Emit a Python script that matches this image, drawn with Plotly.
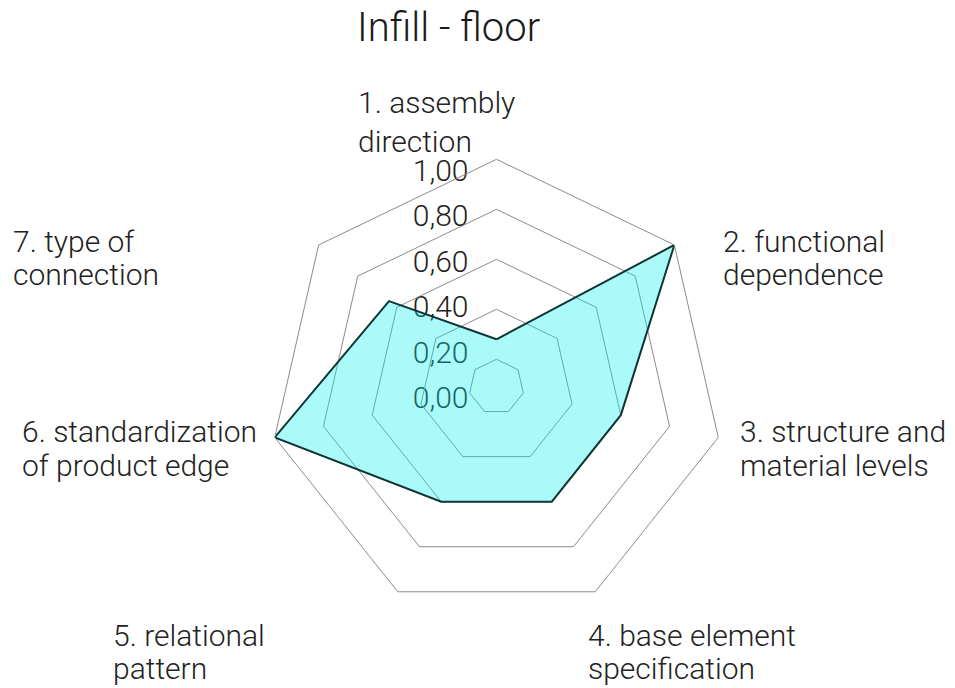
import plotly.graph_objects as go

# ---------------- data ----------------
title_text = "Infill - floor"
categories = [
    "1. assembly direction",
    "2. functional dependence",
    "3. structure and material levels",
    "4. base element specification",
    "5. relational pattern",
    "6. standardization of product edge",
    "7. type of connection",
]
label_lines = [
    ["1. assembly", "direction"],
    ["2. functional", "dependence"],
    ["3. structure and", "material levels"],
    ["4. base element", "specification"],
    ["5. relational", "pattern"],
    ["6. standardization", "of product edge"],
    ["7. type of", "connection"],
]
values = [0.28, 1.00, 0.60, 0.60, 0.60, 1.00, 0.64]
grid_vals = [0.2, 0.4, 0.6, 0.8, 1.0]
scale_vals = [0.0, 0.2, 0.4, 0.6, 0.8, 1.0]
scale_text = ["0,00", "0,20", "0,40", "0,60", "0,80", "1,00"]

# ---------------- layout helpers ----------------
W, H = 955, 688
FONT = "Roboto"
LABEL_SIZE = 30


def domain(cx, cy, r):
    return dict(x=[(cx - r) / W, (cx + r) / W],
                y=[(H - cy - r) / H, (H - cy + r) / H])


# label positions: left x, baselines of line 1 and line 2 (pixels)
label_pos = [(357, 113, 151), (722, 251, 285), (739, 441, 475), (587, 645, 678),
             (112, 645, 678), (21, 441, 475), (12, 251, 285)]

fig = go.Figure()

# invisible trace to host the scale-label subplot
fig.add_trace(go.Scatterpolar(r=[0], theta=[0], subplot="polar",
                              mode="markers", marker=dict(opacity=0),
                              hoverinfo="skip", showlegend=False))

fig.add_trace(go.Scatterpolar(
    r=values + [values[0]],
    theta=categories + [categories[0]],
    subplot="polar2",
    mode="lines",
    fill="toself",
    fillcolor="rgba(0,240,240,0.333)",
    line=dict(color="#0f3535", width=2),
    showlegend=False,
))

fig.update_layout(
    width=W, height=H,
    margin=dict(l=0, r=0, t=0, b=0),
    paper_bgcolor="white",
    plot_bgcolor="white",
    font=dict(family=FONT, color="#222222", weight=300),
    title=dict(text=title_text, x=357 / W, xanchor="left",
               y=1 - 27 / H, yanchor="middle", yref="container",
               font=dict(size=40, family=FONT, color="#1a1a1a", weight=300)),
    polar=dict(
        domain=domain(490, 393, 227.5),
        bgcolor="rgba(0,0,0,0)",
        angularaxis=dict(rotation=90, direction="clockwise",
                         showline=False, showgrid=False,
                         showticklabels=False, ticks=""),
        radialaxis=dict(range=[0, 1.001], angle=90, side="counterclockwise",
                        tickvals=scale_vals, ticktext=scale_text,
                        showline=False, showgrid=False, ticks="",
                        tickfont=dict(size=30, family=FONT, color="#222222", weight=300),
                        layer="below traces"),
    ),
    polar2=dict(
        domain=domain(496.5, 386.8, 227.5),
        bgcolor="rgba(0,0,0,0)",
        gridshape="linear",
        angularaxis=dict(type="category", categoryarray=categories,
                         rotation=90, direction="clockwise",
                         showline=True, linecolor="#8c8c8c", linewidth=1,
                         showgrid=False, showticklabels=False, ticks=""),
        radialaxis=dict(range=[0.09, 1.0], tickvals=grid_vals,
                        showticklabels=False, ticks="", showline=False,
                        gridcolor="#8c8c8c", gridwidth=1),
    ),
)

for lines, (px, b1, b2) in zip(label_lines, label_pos):
    for txt, base in zip(lines, (b1, b2)):
        fig.add_annotation(text=txt, xref="paper", yref="paper",
                           x=px / W, y=1 - (base - 10) / H,
                           xanchor="left", yanchor="middle",
                           align="left", showarrow=False, borderpad=0,
                           font=dict(size=LABEL_SIZE, family=FONT,
                                     color="#222222", weight=300))

fig.write_html("out.html", config={"displayModeBar": False},
               post_script="document.body.style.margin='0';")
